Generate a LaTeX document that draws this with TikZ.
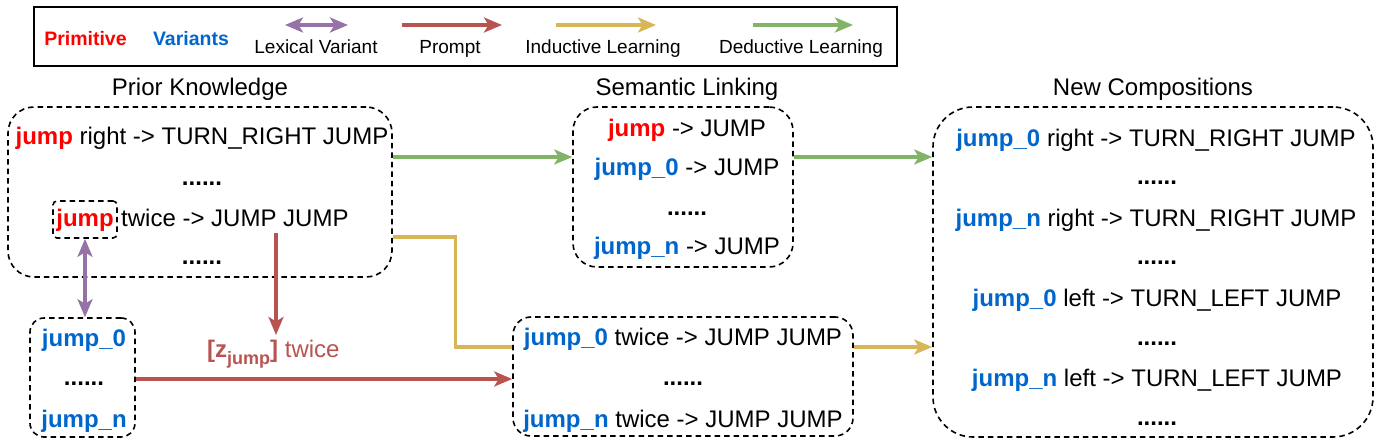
\documentclass[tikz,border=0pt]{standalone}
\usepackage{fontspec}
\setmainfont{Liberation Sans}
\usetikzlibrary{arrows.meta,calc}
\definecolor{primc}{HTML}{FF0000}
\definecolor{varc}{HTML}{0066CC}
\definecolor{lexc}{HTML}{9673A6}
\definecolor{prc}{HTML}{B85450}
\definecolor{indc}{HTML}{D6B656}
\definecolor{dedc}{HTML}{82B366}
\newcommand{\pr}[1]{\textcolor{primc}{\bfseries #1}}
\newcommand{\va}[1]{\textcolor{varc}{\bfseries #1}}
\tikzset{
  dbox/.style={draw=black, dash pattern=on 5.5pt off 4pt, line width=1.6pt, inner sep=0pt},
  txt/.style={font=\fontsize{24}{28}\selectfont, inner sep=0pt, anchor=base},
  leg/.style={font=\fontsize{19}{22}\selectfont, inner sep=0pt, anchor=base},
  legb/.style={font=\fontsize{19.5}{22}\selectfont\bfseries, inner sep=0pt, anchor=base},
  conn/.style={line width=3.3pt},
  ahead/.tip={Stealth[length=18pt,width=15pt,inset=4.5pt]},
}
\begin{document}
\begin{tikzpicture}[x=1pt,y=-1pt]
\useasboundingbox (0,0) rectangle (1382,446);
% legend
\node[draw=black, line width=2pt, minimum width=863pt, minimum height=59pt, inner sep=0pt] (lg) at (465.5,36.5) {};
\node[legb, text=primc] (lprim) at (85.5,46) {Primitive};
\node[legb, text=varc] (lvar) at (191,46) {Variants};
\coordinate (la1) at (285,25); \coordinate (la2) at (348,25);
\coordinate (lb1) at (402,25); \coordinate (lb2) at (502,25);
\coordinate (lc1) at (556,25); \coordinate (lc2) at (656,25);
\coordinate (ld1) at (753,25); \coordinate (ld2) at (853,25);
\draw[conn, lexc, ahead-ahead] (la1) -- (la2);
\draw[conn, prc, -ahead] (lb1) -- (lb2);
\draw[conn, indc, -ahead] (lc1) -- (lc2);
\draw[conn, dedc, -ahead] (ld1) -- (ld2);
\node[leg] (llex) at (316,54) {Lexical Variant};
\node[leg] (lpr) at (450,54) {Prompt};
\node[leg] (lind) at (603,54) {Inductive Learning};
\node[leg] (lded) at (801,54) {Deductive Learning};
% titles
\node[txt] (tpk) at (200,96) {Prior Knowledge};
\node[txt] (tsl) at (687,96) {Semantic Linking};
\node[txt] (tnc) at (1153,96) {New Compositions};
% boxes
\node[dbox, rounded corners=26pt, minimum width=384pt, minimum height=170pt] (pk) at (200,192) {};
\node[dbox, rounded corners=24pt, minimum width=220pt, minimum height=160pt] (sl) at (683,187) {};
\node[dbox, rounded corners=40pt, minimum width=440pt, minimum height=330pt] (nc) at (1153,272) {};
\node[dbox, rounded corners=14pt, minimum width=105pt, minimum height=119pt] (vb) at (82.5,377.5) {};
\node[dbox, rounded corners=18pt, minimum width=340pt, minimum height=119pt] (tw) at (683,376.5) {};
\node[dbox, rounded corners=4pt, minimum width=64pt, minimum height=37pt] (jb) at (85,219.5) {};
% prior knowledge text
\node[txt] (p1) at (202,145) {\pr{jump} right -> TURN\_RIGHT JUMP};
\node[txt] (p2) at (202,186) {\bfseries ......};
\node[txt] (pj) at (85,227) {\pr{jump}};
\node[txt, anchor=base west] (p3) at (121,227) {twice -> JUMP JUMP};
\node[txt] (p4) at (202,265) {\bfseries ......};
% semantic linking text
\node[txt] (s1) at (687,137) {\pr{jump} -> JUMP};
\node[txt] (s2) at (687,176) {\va{jump\_0} -> JUMP};
\node[txt] (s3) at (687,216) {\bfseries ......};
\node[txt] (s4) at (687,255) {\va{jump\_n} -> JUMP};
% variants
\node[txt] (v1) at (84,347) {\va{jump\_0}};
\node[txt] (v2) at (84,385) {\bfseries ......};
\node[txt] (v3) at (84,427) {\va{jump\_n}};
% twice box
\node[txt] (t1) at (683,345) {\va{jump\_0} twice -> JUMP JUMP};
\node[txt] (t2) at (683,385) {\bfseries ......};
\node[txt] (t3) at (683,427) {\va{jump\_n} twice -> JUMP JUMP};
% new compositions
\node[txt] (n1) at (1156,147) {\va{jump\_0} right -> TURN\_RIGHT JUMP};
\node[txt] (n2) at (1157,185) {\bfseries ......};
\node[txt] (n3) at (1156,227) {\va{jump\_n} right -> TURN\_RIGHT JUMP};
\node[txt] (n4) at (1157,265) {\bfseries ......};
\node[txt] (n5) at (1157,307) {\va{jump\_0} left -> TURN\_LEFT JUMP};
\node[txt] (n6) at (1157,345) {\bfseries ......};
\node[txt] (n7) at (1157,386) {\va{jump\_n} left -> TURN\_LEFT JUMP};
\node[txt] (n8) at (1157,425) {\bfseries ......};
% prompt label
\node[txt, anchor=base west, text=prc] (lab) at (207,358) {{\bfseries [z\raisebox{-6pt}{\fontsize{18}{18}\selectfont jump}]} twice};
% connectors
\draw[conn, dedc, -ahead] ([yshift=35pt]pk.east) -- ([yshift=30pt]sl.west);
\draw[conn, dedc, -ahead] ([yshift=30pt]sl.east) coordinate (g1) -- (g1 -| nc.west);
\draw[conn, indc] ([yshift=-45pt]pk.east) -- ++(63,0) |- ([yshift=29.5pt]tw.west);
\draw[conn, indc, -ahead] ([yshift=29.5pt]tw.east) coordinate (y1) -- (y1 -| nc.west);
\draw[conn, lexc, ahead-ahead] (jb.south) -- (jb.south |- vb.north);
\coordinate (rs) at (276,233);
\draw[conn, prc, -ahead] (rs) -- ++(0,102);
\draw[conn, prc, -ahead] ([yshift=-1.5pt]vb.east) coordinate (r1) -- (r1 -| tw.west);
\end{tikzpicture}
\end{document}
